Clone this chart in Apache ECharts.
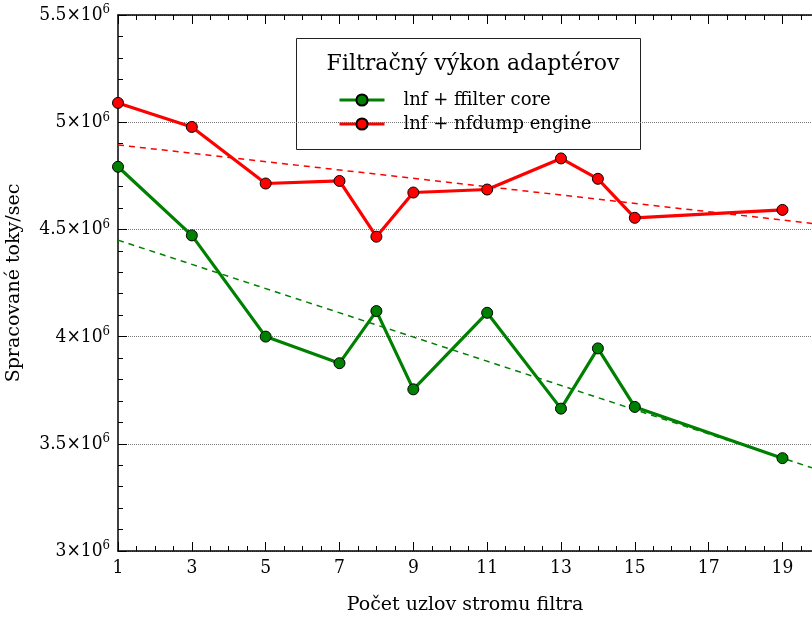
<!DOCTYPE html>
<html>
<head>
<meta charset="utf-8">
<script src="https://cdn.jsdelivr.net/npm/echarts@6/dist/echarts.min.js"></script>
<style>
  html, body { margin: 0; padding: 0; background: #fff; }
  #chart { width: 812px; height: 619px; }
</style>
</head>
<body>
<div id="chart"></div>
<script>
// --- data ---
const nodeCounts = [1, 3, 5, 7, 8, 9, 11, 13, 14, 15, 19];
const ffilterCore = [4.792e6, 4.472e6, 4.0e6, 3.876e6, 4.119e6, 3.754e6, 4.111e6, 3.664e6, 3.945e6, 3.672e6, 3.433e6];
const nfdumpEngine = [5.090e6, 4.978e6, 4.714e6, 4.726e6, 4.466e6, 4.672e6, 4.686e6, 4.831e6, 4.736e6, 4.554e6, 4.591e6];
// dashed trend lines (end points)
const trendX = [1, 19.8];
const ffilterTrend = [4.450e6, 3.388e6];
const nfdumpTrend = [4.894e6, 4.528e6];
const seriesNames = ['lnf + ffilter core', 'lnf + nfdump engine'];
const legendTitle = 'Filtračný výkon adaptérov';

const FONT = "'DejaVu Serif', serif";
const TICKFONT = "'DejaVu Serif Condensed', 'DejaVu Serif', serif";
const pairs = (xs, ys) => xs.map((x, i) => [x, ys[i]]);

const chart = echarts.init(document.getElementById('chart'));

const yLabel = v => {
    const m = +(v / 1e6).toFixed(1);
    return '{a|' + m + '×10}{b|6}';
};

chart.setOption({
    animation: false,
    backgroundColor: '#fff',
    textStyle: { fontFamily: FONT },
    grid: { left: 118, right: 0, top: 15, bottom: 68, outerBoundsMode: 'none', containLabel: false },
    title: {
        text: legendTitle, left: 468, top: 48, textAlign: 'center',
        textStyle: { fontFamily: FONT, fontWeight: 'normal', fontSize: 22, color: '#000' }
    },
    graphic: [{
        type: 'rect', left: 296, top: 38, z: 0,
        shape: { width: 344, height: 111 },
        style: { fill: '#fff', stroke: '#222', lineWidth: 1 }
    }],
    legend: {
        data: seriesNames, orient: 'vertical', left: 333, top: 86,
        itemWidth: 45, itemHeight: 14, itemGap: 6,
        lineStyle: { width: 3 },
        textStyle: { fontFamily: FONT, fontSize: 18, color: '#000', padding: [0, 0, 0, 14] },
        z: 5
    },
    xAxis: [{
        type: 'value', min: 1, max: 19.8, interval: 2,
        name: 'Počet uzlov stromu filtra', nameLocation: 'middle', nameGap: 45,
        nameTextStyle: { fontFamily: FONT, fontSize: 19, color: '#000' },
        axisLine: { onZero: false, lineStyle: { color: '#000', width: 1.5 } },
        axisTick: { inside: true, length: 9, lineStyle: { color: '#000' } },
        minorTick: { show: true, splitNumber: 4, length: 5, lineStyle: { color: '#000' } },
        axisLabel: { fontFamily: TICKFONT, fontSize: 19, color: '#000', margin: 8,
            formatter: v => (v > 19 ? '' : v) },
        splitLine: { show: false }
    }, {
        type: 'value', min: 1, max: 19.8, interval: 2, position: 'top',
        axisLine: { onZero: false, lineStyle: { color: '#000', width: 1.5 } },
        axisTick: { inside: true, length: 9, lineStyle: { color: '#000' } },
        minorTick: { show: true, splitNumber: 4, length: 5, lineStyle: { color: '#000' } },
        axisLabel: { show: false },
        splitLine: { show: false }
    }],
    yAxis: {
        type: 'value', min: 3e6, max: 5.5e6, interval: 0.5e6,
        name: 'Spracované toky/sec', nameLocation: 'middle', nameGap: 94,
        nameTextStyle: { fontFamily: FONT, fontSize: 19, color: '#000' },
        axisLine: { show: true, lineStyle: { color: '#000', width: 1.5 } },
        axisTick: { inside: true, length: 9, lineStyle: { color: '#000' } },
        minorTick: { show: true, splitNumber: 5, length: 5, lineStyle: { color: '#000' } },
        axisLabel: {
            formatter: yLabel, margin: 8,
            rich: {
                a: { fontFamily: TICKFONT, fontSize: 19, color: '#000' },
                b: { fontFamily: TICKFONT, fontSize: 13, color: '#000', verticalAlign: 'top', padding: [0, 0, 10, 0] }
            }
        },
        splitLine: {
            show: true,
            lineStyle: { color: '#777', width: 1, type: [1, 1] }
        }
    },
    series: [{
        name: seriesNames[0], type: 'line', data: pairs(nodeCounts, ffilterCore),
        symbol: 'circle', symbolSize: 11, z: 4,
        lineStyle: { color: '#008000', width: 3.2 },
        itemStyle: { color: '#008000', borderColor: '#000', borderWidth: 1 }
    }, {
        name: seriesNames[1], type: 'line', data: pairs(nodeCounts, nfdumpEngine),
        symbol: 'circle', symbolSize: 11, z: 4,
        lineStyle: { color: '#ff0000', width: 3.2 },
        itemStyle: { color: '#ff0000', borderColor: '#000', borderWidth: 1 }
    }, {
        name: 'ffilter trend', type: 'line', data: pairs(trendX, ffilterTrend),
        symbol: 'none', z: 3,
        lineStyle: { color: '#008000', width: 1.5, type: [6, 5] }
    }, {
        name: 'nfdump trend', type: 'line', data: pairs(trendX, nfdumpTrend),
        symbol: 'none', z: 3,
        lineStyle: { color: '#ff0000', width: 1.5, type: [6, 5] }
    }]
});
</script>
</body>
</html>
